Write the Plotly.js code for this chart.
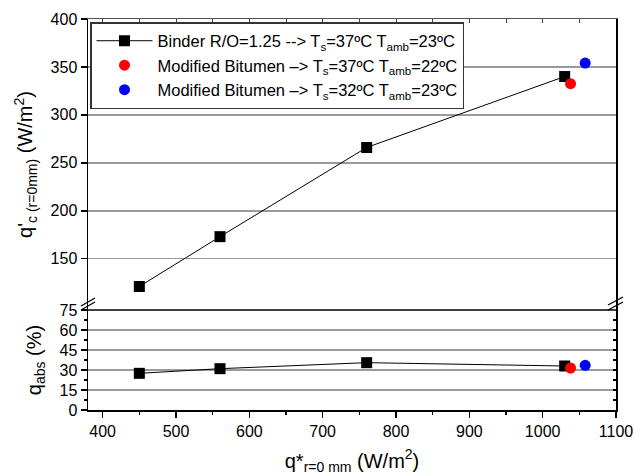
<!DOCTYPE html>
<html>
<head>
<meta charset="utf-8">
<script src="https://cdn.plot.ly/plotly-3.0.1.min.js"></script>
<style>html,body{margin:0;padding:0;background:#fff;}#chart{width:634px;height:475px;}</style>
</head>
<body>
<div id="chart"></div>
<script>
// ---- data ----
const xBinder = [450, 560, 760, 1030];
const qcBinder = [121, 173, 266, 340];
const qabsBinder = [27.5, 31, 35.5, 33];

const xMod37 = [1038];
const qcMod37 = [332.5];
const qabsMod37 = [31.5];

const xMod32 = [1058];
const qcMod32 = [354];
const qabsMod32 = [33.5];

const nameBinder = "Binder R/O=1.25 --> T<sub>s</sub>=37ºC T<sub>amb</sub>=23ºC";
const nameMod37 = "Modified Bitumen –> T<sub>s</sub>=37ºC T<sub>amb</sub>=22ºC";
const nameMod32 = "Modified Bitumen –> T<sub>s</sub>=32ºC T<sub>amb</sub>=23ºC";

const xRange = [380, 1100];
const qcRange = [96.5, 400];
const qcTicks = [150, 200, 250, 300, 350, 400];
const qabsRange = [0, 75];

// ---- layout constants ----
const W = 634, H = 475, ML = 88, MR = 18, MT = 19, MB = 65;
const PW = W - ML - MR, PH = H - MT - MB;
const splitPx = 310;
const d = (H - MB - splitPx) / PH;
const px = v => (v - ML) / PW;
const py = v => (H - MB - v) / PH;
const font = "Liberation Sans, Arial, sans-serif";

const traces = [
  {x: xBinder, y: qcBinder, xaxis: 'x2', yaxis: 'y2', name: nameBinder, mode: 'lines+markers',
   line: {color: 'black', width: 1}, marker: {symbol: 'square', size: 11, color: 'black'}},
  {x: xMod37, y: qcMod37, xaxis: 'x2', yaxis: 'y2', name: nameMod37, mode: 'markers',
   marker: {symbol: 'circle', size: 11, color: '#ff0000'}},
  {x: xMod32, y: qcMod32, xaxis: 'x2', yaxis: 'y2', name: nameMod32, mode: 'markers',
   marker: {symbol: 'circle', size: 11, color: '#0000ff'}},
  {x: xBinder, y: qabsBinder, xaxis: 'x', yaxis: 'y', showlegend: false, mode: 'lines+markers',
   line: {color: 'black', width: 1}, marker: {symbol: 'square', size: 11, color: 'black'}},
  {x: xMod37, y: qabsMod37, xaxis: 'x', yaxis: 'y', showlegend: false, mode: 'markers',
   marker: {symbol: 'circle', size: 11, color: '#ff0000'}},
  {x: xMod32, y: qabsMod32, xaxis: 'x', yaxis: 'y', showlegend: false, mode: 'markers',
   marker: {symbol: 'circle', size: 11, color: '#0000ff'}},
  {x: [], y: [], xaxis: 'x', yaxis: 'y3', showlegend: false, hoverinfo: 'skip'}
];

const brk = (x0, y0, x1, y1) => ({type: 'line', xref: 'paper', yref: 'paper',
  x0: px(x0), y0: py(y0), x1: px(x1), y1: py(y1), line: {color: 'black', width: 1.2}});

const layout = {
  width: W, height: H,
  margin: {l: ML, r: MR, t: MT, b: MB},
  paper_bgcolor: 'white', plot_bgcolor: 'white',
  font: {family: font, size: 16, color: 'black'},
  showlegend: true,
  legend: {x: px(90), y: py(22), xanchor: 'left', yanchor: 'top',
    bgcolor: 'white', bordercolor: '#333', borderwidth: 1.5,
    font: {family: font, size: 16.5, color: 'black'}, itemwidth: 56, tracegroupgap: 0},
  xaxis: {domain: [0, 1], anchor: 'y', range: xRange, tickmode: 'linear', tick0: 400, dtick: 100,
    ticks: 'outside', ticklen: 6, tickwidth: 1.5, tickcolor: 'black',
    minor: {ticks: 'outside', dtick: 50, tick0: 400, ticklen: 3, tickwidth: 1.5, tickcolor: 'black', showgrid: false},
    showline: true, linecolor: 'black', linewidth: 1.5, showgrid: false, zeroline: false,
    tickfont: {size: 16},
    title: {text: "q*<sub>r=0 mm</sub> (W/m<sup>2</sup>)", font: {size: 20}, standoff: 16}},
  xaxis2: {domain: [0, 1], anchor: 'y2', range: xRange, side: 'top', showticklabels: false,
    tickmode: 'linear', tick0: 400, dtick: 50, ticks: 'inside', ticklen: 4, tickwidth: 1, tickcolor: '#444',
    showline: true, linecolor: '#555', linewidth: 1.5, showgrid: false, zeroline: false},
  yaxis: {domain: [0, d], anchor: 'x', range: qabsRange, tickmode: 'linear', tick0: 0, dtick: 15,
    ticks: 'outside', ticklen: 6, tickwidth: 1.5, tickcolor: 'black',
    minor: {ticks: 'outside', dtick: 7.5, tick0: 0, ticklen: 3, tickwidth: 1.5, tickcolor: 'black', showgrid: false},
    showline: true, linecolor: 'black', linewidth: 1.5, showgrid: true, gridcolor: '#9a9a9a', gridwidth: 1.5,
    zeroline: false, tickfont: {size: 16},
    title: {text: "q<sub>abs</sub> (%)", font: {size: 20}, standoff: 12}},
  yaxis3: {overlaying: 'y', side: 'right', anchor: 'x', range: qabsRange, tickmode: 'linear', tick0: 0, dtick: 7.5,
    ticks: 'inside', ticklen: 3, tickwidth: 1.2, tickcolor: 'black', showticklabels: false,
    showline: true, linecolor: 'black', linewidth: 1.5, showgrid: false, zeroline: false},
  yaxis2: {domain: [d, 1], anchor: 'x2', range: qcRange, tickmode: 'array', tickvals: qcTicks,
    ticks: 'outside', ticklen: 6, tickwidth: 1.5, tickcolor: 'black',
    showline: true, mirror: true, linecolor: 'black', linewidth: 1.5,
    showgrid: true, gridcolor: '#9a9a9a', gridwidth: 1.5, zeroline: false, tickfont: {size: 16},
    title: {text: "q'<sub>c (r=0mm)</sub> (W/m<sup>2</sup>)", font: {size: 20}, standoff: 12}},
  shapes: [
    {type: 'line', xref: 'paper', yref: 'paper', x0: 0, x1: 1, y0: d, y1: d, line: {color: 'black', width: 1.5}},
    brk(81, 306, 95, 298), brk(81, 310, 95, 302),
    brk(608, 305, 623, 297), brk(608, 310, 623, 302)
  ]
};

Plotly.newPlot('chart', traces, layout, {displayModeBar: false, staticPlot: true});
</script>
</body>
</html>
